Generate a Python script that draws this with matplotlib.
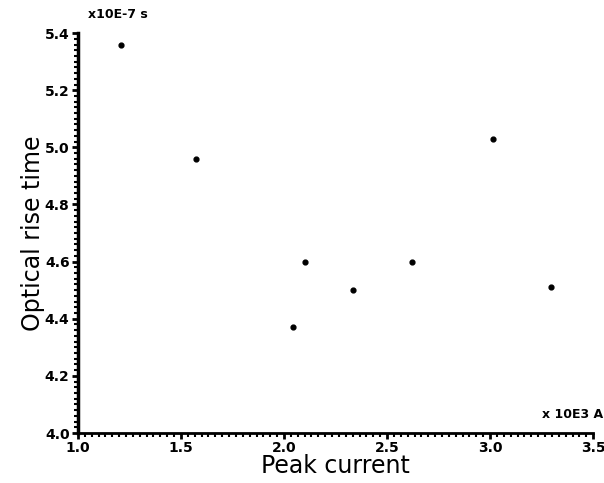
import matplotlib
matplotlib.use('Agg')
import matplotlib.pyplot as plt
from matplotlib.ticker import MultipleLocator

# Peak current (x 10E3 A) vs optical rise time (x 10E-7 s)
peak_current = [1.21, 1.573, 2.044, 2.10, 2.335, 2.62, 3.015, 3.296]
rise_time = [5.36, 4.96, 4.37, 4.60, 4.50, 4.60, 5.03, 4.51]

x_ticks = [1.0, 1.5, 2.0, 2.5, 3.0, 3.5]
y_ticks = [4.0, 4.2, 4.4, 4.6, 4.8, 5.0, 5.2, 5.4]

fig = plt.figure(figsize=(6.04, 4.83), dpi=100)
ax = fig.add_axes([0.129, 0.1035, 0.853, 0.828])

ax.scatter(peak_current, rise_time, s=12, color='black', zorder=3)

ax.set_xlim(1.0, 3.5)
ax.set_ylim(4.0, 5.4)
ax.set_xticks(x_ticks)
ax.set_yticks(y_ticks)
ax.set_xticklabels(['%.1f' % v for v in x_ticks], fontweight='bold', fontsize=10)
ax.set_yticklabels(['%.1f' % v for v in y_ticks], fontweight='bold', fontsize=10)
ax.xaxis.set_minor_locator(MultipleLocator(0.5 / 15))
ax.yaxis.set_minor_locator(MultipleLocator(0.02))
ax.tick_params(which='major', direction='out', length=4, width=2, pad=2)
ax.tick_params(which='minor', direction='out', length=3, width=1.5)

for side in ['top', 'right']:
    ax.spines[side].set_visible(False)
ax.spines['left'].set_linewidth(2.5)
ax.spines['bottom'].set_linewidth(2)

ax.set_xlabel('Peak current', fontsize=17, labelpad=-1)
ax.set_ylabel('Optical rise time', fontsize=17, labelpad=0)

ax.text(0.02, 1.03, 'x10E-7 s', transform=ax.transAxes, fontsize=9,
        fontweight='bold', ha='left', va='bottom')
ax.text(1.02, 0.03, 'x 10E3 A', transform=ax.transAxes, fontsize=9,
        fontweight='bold', ha='right', va='bottom')

fig.savefig('out.png', dpi=100)
